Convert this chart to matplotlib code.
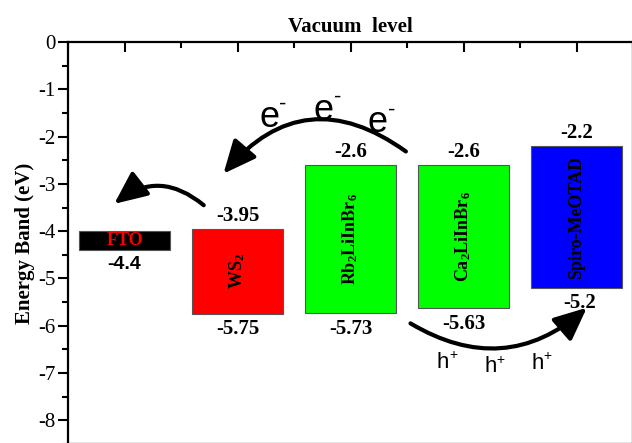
import matplotlib
matplotlib.use("Agg")
import matplotlib.pyplot as plt
from matplotlib.patches import FancyArrowPatch

plt.rcParams['mathtext.fontset'] = 'custom'
plt.rcParams['mathtext.rm'] = 'Liberation Serif'
plt.rcParams['mathtext.bf'] = 'Liberation Serif:bold'
plt.rcParams['mathtext.sf'] = 'Liberation Sans'

# ---- data ----
materials = ['FTO', r'$\mathbf{WS_2}$', r'$\mathbf{Rb_2LiInBr_6}$',
             r'$\mathbf{Ca_2LiInBr_6}$', 'Spiro-MeOTAD']
upper = [-4.0, -3.95, -2.6, -2.6, -2.2]     # LUMO / top of bar
lower = [-4.4, -5.75, -5.73, -5.63, -5.2]   # HOMO / bottom of bar
upper_labels = [None, '-3.95', '-2.6', '-2.6', '-2.2']
lower_labels = ['-4.4', '-5.75', '-5.73', '-5.63', '-5.2']
colors = ['#000000', '#ff0000', '#00ff00', '#00ff00', '#0000ff']
text_colors = ['#ff0000', '#000000', '#000000', '#000000', '#000000']
positions = [1, 2, 3, 4, 5]
yticks = [0, -1, -2, -3, -4, -5, -6, -7, -8]

# annotation positions (data units)
e_x = [2.28, 2.76, 3.24]
e_y = [-1.59, -1.44, -1.71]
h_x = [3.82, 4.24, 4.66]
h_y = [-6.77, -6.87, -6.79]

W, H = 632, 443
fig = plt.figure(figsize=(W / 100, H / 100), dpi=100)
ax = fig.add_axes([68 / W, -1 / H, 565 / W, (8.5 * 47.3) / H])
ax.set_xlim(0.51, 5.5)
ax.set_ylim(-8.5, 0)

for i, m in enumerate(materials):
    x = positions[i]
    ax.bar(x, upper[i] - lower[i], bottom=lower[i], width=0.8,
           color=colors[i], edgecolor='#555555', linewidth=0.8, zorder=2)
    mid = (upper[i] + lower[i]) / 2
    if i == 0:
        ax.text(x, mid, m, ha='center', va='center', color=text_colors[i],
                fontsize=13, fontweight='bold', family='Liberation Serif', zorder=3)
    else:
        ax.text(x, mid, m, ha='center', va='center', color=text_colors[i],
                rotation=90, fontsize=13, fontweight='bold',
                family='Liberation Serif', zorder=3)
    if upper_labels[i]:
        ax.annotate(upper_labels[i], (x, upper[i]), xytext=(0, 2),
                    textcoords='offset points', ha='center', va='bottom',
                    fontsize=15, fontweight='bold', family='Liberation Serif')
    fam = 'Liberation Sans' if i == 0 else 'Liberation Serif'
    fs = 14 if i == 0 else 15
    ax.annotate(lower_labels[i], (x + (0.03 if i == 4 else 0), lower[i]), xytext=(0, -4),
                textcoords='offset points', ha='center', va='top',
                fontsize=fs, fontweight='bold', family=fam)

# arrows
arrow_kw = dict(arrowstyle='-|>,head_length=1.0,head_width=0.45',
                mutation_scale=20, color='black', lw=3, zorder=4)
ax.add_patch(FancyArrowPatch((3.51, -2.35), (1.86, -2.83),
                             connectionstyle='arc3,rad=0.47', **arrow_kw))
ax.add_patch(FancyArrowPatch((1.72, -3.49), (0.89, -3.46),
                             connectionstyle='arc3,rad=0.42', **arrow_kw))
ax.add_patch(FancyArrowPatch((3.51, -5.92), (5.11, -5.58),
                             connectionstyle='arc3,rad=0.37', **arrow_kw))

for x, y in zip(e_x, e_y):
    ax.text(x, y, 'e', ha='center', va='center', family='Liberation Sans',
            fontsize=26, zorder=5)
    ax.annotate('-', (x, y), xytext=(10, 9), textcoords='offset points',
                ha='center', va='center', family='Liberation Sans',
                fontsize=16, zorder=5)
for x, y in zip(h_x, h_y):
    ax.text(x, y, 'h', ha='center', va='center', family='Liberation Sans',
            fontsize=16, zorder=5)
    ax.annotate('+', (x, y), xytext=(7, 5), textcoords='offset points',
                ha='center', va='center', family='Liberation Sans',
                fontsize=10, zorder=5)

# axes styling
ax.set_yticks(yticks)
ax.set_yticklabels([str(t) for t in yticks], family='Liberation Serif', fontsize=15)
ax.set_yticks([t - 0.5 for t in yticks], minor=True)
ax.set_xticks(positions)
ax.set_xticks([p + 0.5 for p in [0] + positions], minor=True)
ax.xaxis.tick_top()
ax.tick_params(axis='x', which='both', direction='in', labeltop=False,
               labelbottom=False, width=1.5)
ax.tick_params(axis='x', which='major', length=7)
ax.tick_params(axis='x', which='minor', length=4)
ax.tick_params(axis='y', which='major', direction='out', length=7, width=1.5, pad=2)
ax.tick_params(axis='y', which='minor', direction='out', length=4, width=1.5)
for s in ax.spines.values():
    s.set_linewidth(1.6)

ax.set_title('Vacuum  level', family='Liberation Serif', fontweight='bold',
             fontsize=15, pad=7)
ax.set_ylabel('Energy Band (eV)', family='Liberation Serif', fontweight='bold',
              fontsize=15, labelpad=2)

fig.savefig('out.png', dpi=100)
